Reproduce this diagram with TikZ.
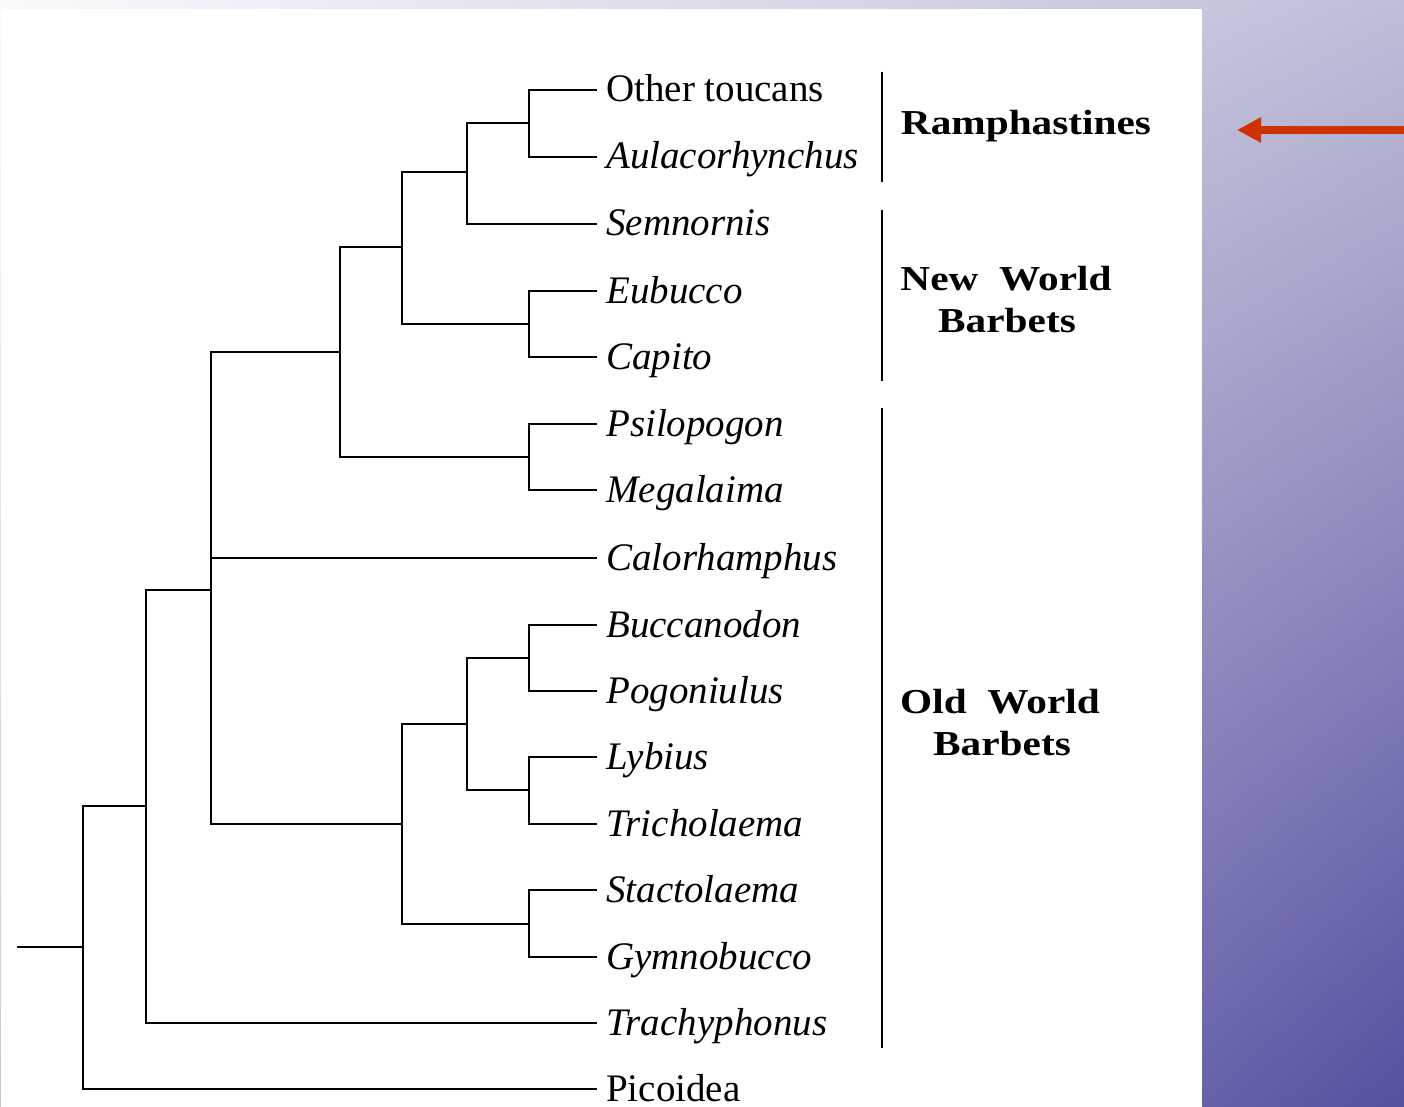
\documentclass[tikz,border=0pt]{standalone}
\usepackage{fontspec}
\setmainfont{Liberation Serif}
\newfontfamily\grpfont[FakeStretch=1.18]{Liberation Serif}
\usetikzlibrary{arrows.meta}
\usetikzlibrary{shadings}
\definecolor{pfeilrot}{HTML}{CC3300}
\definecolor{bgol}{HTML}{FAFAFC}
\definecolor{bgor}{HTML}{BEBED8}
\definecolor{bgul}{HTML}{C8C8E0}
\definecolor{bgur}{HTML}{5550A0}

\tikzset{
  ast/.style={line width=2.9pt, line join=miter},
  gruppe/.style={line width=2.9pt},
  taxon/.style={anchor=west, inner xsep=9pt, inner ysep=0pt, text height=34pt, text depth=10pt,
    font=\fontsize{39}{44}\selectfont\itshape},
  grp/.style={anchor=base, inner sep=0pt, font=\grpfont\bfseries\fontsize{35}{42}\selectfont},
  pfeil/.style={line width=7.5pt, pfeilrot, -{Triangle[length=24pt,width=24pt]}}
}

\begin{document}
\begin{tikzpicture}[x=1pt,y=-1pt]
  \useasboundingbox (0,0) rectangle (1404,1107);

  % Hintergrund
  \shade[upper left=bgol, upper right=bgor, lower left=bgul, lower right=bgur] (0,0) rectangle (1404,1107);
  \fill[white] (1,9) rectangle (1202,1107);

  % Taxa
  \node[taxon] (tou) at (597,90) {\upshape Other toucans};
  \node[taxon] (aul) at (597,157) {Aulacorhynchus};
  \node[taxon] (sem) at (597,224) {Semnornis};
  \node[taxon] (eub) at (597,291) {Eubucco};
  \node[taxon] (cap) at (597,357) {Capito};
  \node[taxon] (psi) at (597,424) {Psilopogon};
  \node[taxon] (meg) at (597,490) {Megalaima};
  \node[taxon] (cal) at (597,558) {Calorhamphus};
  \node[taxon] (buc) at (597,625) {Buccanodon};
  \node[taxon] (pog) at (597,691) {Pogoniulus};
  \node[taxon] (lyb) at (597,757) {Lybius};
  \node[taxon] (tri) at (597,824) {Tricholaema};
  \node[taxon] (sta) at (597,890) {Stactolaema};
  \node[taxon] (gym) at (597,957) {Gymnobucco};
  \node[taxon] (tra) at (597,1023) {Trachyphonus};
  \node[taxon] (pic) at (597,1089) {\upshape Picoidea};

  % Verzweigungen
  \coordinate (toucA) at (529,123);
  \coordinate (toucB) at (467,172);
  \coordinate (capA) at (529,324);
  \coordinate (nwB) at (402,247);
  \coordinate (megA) at (529,457);
  \coordinate (asB) at (340,352);
  \coordinate (pogA) at (529,658);
  \coordinate (lybA) at (529,790);
  \coordinate (lybB) at (467,724);
  \coordinate (gymA) at (529,924);
  \coordinate (afB) at (402,824);
  \coordinate (capiB) at (211,590);
  \coordinate (barbB) at (146,806);
  \coordinate (picB) at (83,947);
  \coordinate (wurzel) at (17,947);

  % Baum
  \draw[ast] (toucA) |- (tou.west);
  \draw[ast] (toucA) |- (aul.west);
  \draw[ast] (toucB) |- (toucA);
  \draw[ast] (toucB) |- (sem.west);
  \draw[ast] (capA) |- (eub.west);
  \draw[ast] (capA) |- (cap.west);
  \draw[ast] (nwB) |- (toucB);
  \draw[ast] (nwB) |- (capA);
  \draw[ast] (megA) |- (psi.west);
  \draw[ast] (megA) |- (meg.west);
  \draw[ast] (asB) |- (nwB);
  \draw[ast] (asB) |- (megA);
  \draw[ast] (pogA) |- (buc.west);
  \draw[ast] (pogA) |- (pog.west);
  \draw[ast] (lybA) |- (lyb.west);
  \draw[ast] (lybA) |- (tri.west);
  \draw[ast] (lybB) |- (pogA);
  \draw[ast] (lybB) |- (lybA);
  \draw[ast] (gymA) |- (sta.west);
  \draw[ast] (gymA) |- (gym.west);
  \draw[ast] (afB) |- (lybB);
  \draw[ast] (afB) |- (gymA);
  \draw[ast] (capiB) |- (asB);
  \draw[ast] (capiB) |- (cal.west);
  \draw[ast] (capiB) |- (afB);
  \draw[ast] (barbB) |- (capiB);
  \draw[ast] (barbB) |- (tra.west);
  \draw[ast] (picB) |- (barbB);
  \draw[ast] (picB) |- (pic.west);
  \draw[ast] (wurzel) -- (picB);

  % Gruppen
  \coordinate (raO) at (882,72);
  \coordinate (raU) at (882,182);
  \coordinate (nwO) at (882,210);
  \coordinate (nwU) at (882,381);
  \coordinate (owO) at (882,408);
  \coordinate (owU) at (882,1048);
  \draw[gruppe] (raO) -- (raU);
  \draw[gruppe] (nwO) -- (nwU);
  \draw[gruppe] (owO) -- (owU);
  \node[grp] (ramph) at (1026,135) {Ramphastines};
  \node[grp] (nw1) at (1006,290) {New\ \ World};
  \node[grp] (nw2) at (1007,332) {Barbets};
  \node[grp] (ow1) at (1000,713) {Old\ \ World};
  \node[grp] (ow2) at (1002,755) {Barbets};

  % Pfeil
  \coordinate (pfeilA) at (1404,130);
  \coordinate (pfeilB) at (1237,130);
  \draw[pfeil] (pfeilA) -- (pfeilB);
\end{tikzpicture}
\end{document}
